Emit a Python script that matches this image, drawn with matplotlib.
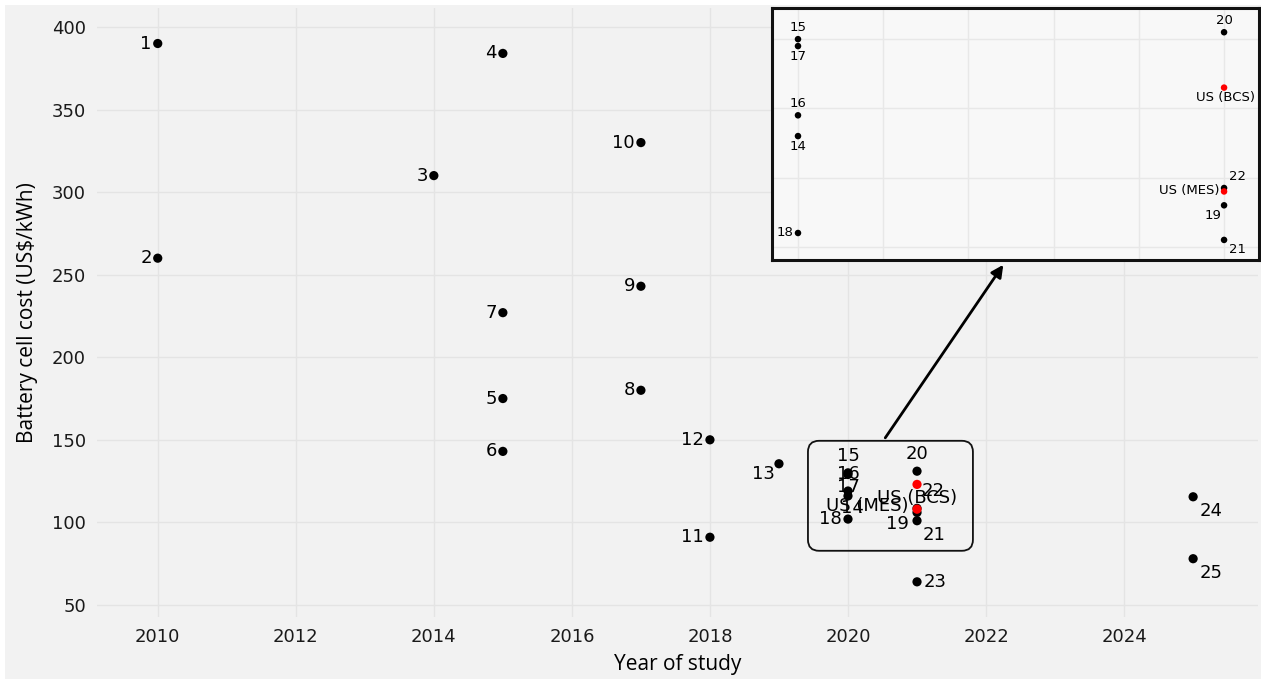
import matplotlib
matplotlib.use("Agg")
import matplotlib.pyplot as plt
from matplotlib.patches import FancyBboxPatch, Rectangle
import numpy as np

# Cell cost per study (US$/kWh) against the year of the study
labels = ['1', '2', '3', '4', '5', '6', '7', '8', '9', '10', '11', '12', '13',
          '14', '15', '16', '17', '18', '19', '20', '21', '22', '23', '24', '25',
          'US (BCS)', 'US (MES)']
years = [2010, 2010, 2014, 2015, 2015, 2015, 2015, 2017, 2017, 2017, 2018, 2018, 2019,
         2020, 2020, 2020, 2020, 2020, 2021, 2021, 2021, 2021, 2021, 2025, 2025,
         2021, 2021]
costs = [390, 260, 310, 384, 175, 143, 227, 180, 243, 330, 91, 150, 135.5,
         116, 130, 119, 129, 102, 106, 131, 101, 108.5, 64, 115.5, 78,
         123, 108]
us_labels = ['US (BCS)', 'US (MES)']
zoom_labels = ['14', '15', '16', '17', '18', '19', '20', '21', '22', 'US (BCS)', 'US (MES)']

# label placement: pixel offset from the dot and horizontal alignment
main_pos = {'13': (-4, -10, 'right'), '14': (4, -12, 'center'), '15': (0, 17, 'center'),
            '16': (0, 17, 'center'), '17': (0, -13, 'center'), '18': (-6, 0, 'right'),
            '19': (-8, -12, 'right'), '20': (0, 17, 'center'), '21': (17, -14, 'center'),
            '22': (16, 17, 'center'), '23': (7, 0, 'left'), '24': (18, -14, 'center'),
            '25': (18, -14, 'center'), 'US (BCS)': (0, -14, 'center'),
            'US (MES)': (-9, 3, 'right')}
zoom_pos = {'14': (0, -10, 'center'), '15': (0, 12, 'center'), '16': (0, 12, 'center'),
            '17': (0, -10, 'center'), '18': (-5, 0, 'right'), '19': (-11, -10, 'center'),
            '20': (0, 12, 'center'), '21': (13, -10, 'center'), '22': (13, 12, 'center'),
            'US (BCS)': (1, -10, 'center'), 'US (MES)': (-5, 1, 'right')}

BG = '#f2f2f2'
GRID = '#e4e4e4'

fig = plt.figure(figsize=(12.61, 6.81), dpi=100)
fig.patch.set_facecolor('white')
fig.add_artist(Rectangle((5 / 1261, 2 / 681), 1, 1 - 7 / 681, transform=fig.transFigure,
                         facecolor=BG, edgecolor='none', zorder=0))

ax = fig.add_axes([97 / 1261, 1 - 617 / 681, 1161 / 1261, 609 / 681])
ax.set_facecolor(BG)
ax.set_xlim(2009.12, 2025.94)
ax.set_ylim(42.7, 411.5)
ax.set_xticks(np.arange(2010, 2025, 2))
ax.set_yticks(np.arange(50, 401, 50))
ax.grid(True, color=GRID, lw=1)
ax.set_axisbelow(True)
for s in ax.spines.values():
    s.set_visible(False)
ax.tick_params(length=0, labelsize=13, pad=8, colors='#1a1a1a')
ax.set_xlabel('Year of study', fontsize=15, family='Open Sans', labelpad=6)
ax.set_ylabel('Battery cell cost (US$/kWh)', fontsize=15, family='Open Sans', labelpad=10)

colors = ['red' if l in us_labels else 'black' for l in labels]
ax.scatter(years, costs, s=44, c=colors, zorder=3, linewidths=0)
for l, x, y in zip(labels, years, costs):
    dx, dy, ha = main_pos.get(l, (-6, 0, 'right'))
    ax.annotate(l, (x, y), xytext=(dx, dy), textcoords='offset pixels',
                ha=ha, va='center', fontsize=13, zorder=4)

# rounded box around the crowded 2020-2021 group
ax.add_patch(FancyBboxPatch((2019.42, 82.8), 2021.81 - 2019.42, 149.4 - 82.8,
                            boxstyle='round,pad=0,rounding_size=0.16',
                            mutation_aspect=41.8, fill=False, lw=1.3,
                            edgecolor='#111111', zorder=5))
ax.annotate('', xy=(2022.25, 256), xytext=(2020.54, 151.2),
            arrowprops=dict(arrowstyle='-|>', lw=2, color='black',
                            mutation_scale=18, shrinkA=0, shrinkB=0), zorder=5)

# zoomed view of the group
axi = fig.add_axes([772 / 1261, 1 - 260 / 681, 487 / 1261, 252 / 681])
axi.set_facecolor('#f8f8f8')
axi.set_xlim(2019.939, 2021.082)
axi.set_ylim(98.1, 134.5)
axi.set_xticks(np.arange(2020, 2021.1, 0.2))
axi.set_yticks([100, 110, 120, 130])
axi.grid(True, color='#e8e8e8', lw=1)
axi.set_axisbelow(True)
axi.tick_params(length=0, labelbottom=False, labelleft=False)
for s in axi.spines.values():
    s.set_linewidth(2.2)
    s.set_color('#111111')
zx = [x for l, x in zip(labels, years) if l in zoom_labels]
zy = [y for l, y in zip(labels, costs) if l in zoom_labels]
zc = ['red' if l in us_labels else 'black' for l in labels if l in zoom_labels]
axi.scatter(zx, zy, s=22, c=zc, zorder=3, linewidths=0)
for l, x, y in zip(labels, years, costs):
    if l in zoom_labels:
        dx, dy, ha = zoom_pos[l]
        axi.annotate(l, (x, y), xytext=(dx, dy), textcoords='offset pixels',
                     ha=ha, va='center', fontsize=9.5)

fig.savefig('out.png', dpi=100, facecolor=fig.get_facecolor())
